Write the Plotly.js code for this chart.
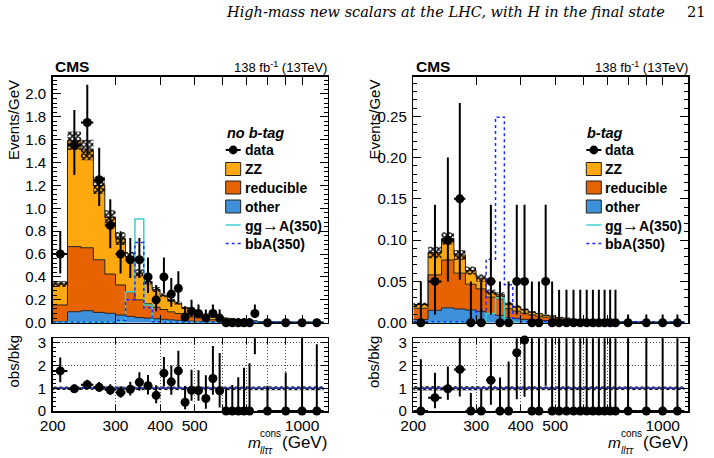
<!DOCTYPE html>
<html><head><meta charset="utf-8">
<script src="https://cdn.plot.ly/plotly-3.0.1.min.js"></script>
<style>html,body{margin:0;padding:0;background:#fff}#plot{width:714px;height:458px}</style>
</head><body><div id="plot"></div>
<script>
// ---------------- data ----------------
const binEdges = [200,220,240,260,280,300,320,340,360,380,400,420,440,460,480,500,525,550,575,600,625,650,675,700,725,750,850,950,1050,1150];
const xTickVals = [200,300,400,500,1000];
const xTickText = ['200','300','400','500','1000'];
const xMinorVals = [600,700,800,900];

// no b-tag category (Events/GeV)
const nbOther = [0.01,0.096,0.105,0.09,0.082,0.067,0.055,0.045,0.04,0.035, 0.03,0.025,0.021,0.017,0.014,0.011,0.009,0.007,0.006,0.005, 0.0045,0.0035,0.003,0.0025,0.002,0.0012,0.0008,0.0004,0.0004];
const nbReducible = [0.145,0.569,0.55,0.46,0.343,0.263,0.215,0.155,0.125,0.1, 0.085,0.07,0.059,0.048,0.038,0.031,0.025,0.019,0.015,0.013, 0.0105,0.0085,0.006,0.0055,0.005,0.0028,0.0017,0.0008,0.001];
const nbZZ = [0.185,0.925,0.855,0.65,0.495,0.405,0.305,0.235,0.195,0.155, 0.125,0.1,0.09,0.065,0.058,0.047,0.039,0.03,0.024,0.022, 0.02,0.015,0.012,0.011,0.009,0.005,0.0034,0.0017,0.002];
const nbUnc = [0.025,0.08,0.09,0.075,0.065,0.057,0.042,0.032,0.027,0.022, 0.018,0.015,0.013,0.01,0.008,0.0065,0.0055,0.0045,0.0035,0.003, 0.0027,0.0022,0.0017,0.0015,0.0013,0.0008,0.0005,0.0003,0.0003];
const nbData = [0.6,1.55,1.75,1.25,0.85,0.6,0.55,0.55,0.4,0.2, 0.4,0.25,0.3,0.05,0.1,0.08,0.04,0.08,0.04,0, 0,0,0,0,0.08,0,0,0,0];
const nbErrUp = [0.2,0.31,0.33,0.28,0.23,0.2,0.19,0.19,0.17,0.13, 0.17,0.14,0.15,0.093,0.1,0.08,0.075,0.08,0.075,0.04, 0.04,0.04,0.04,0.04,0.08,0.01,0.01,0.01,0.01];
const nbErrDn = [0.17,0.26,0.28,0.23,0.2,0.17,0.16,0.16,0.14,0.1, 0.14,0.11,0.12,0.04,0.05,0.04,0.033,0.04,0.033,0, 0,0,0,0,0.04,0,0,0,0];
const nbGGA = [0.003,0.003,0.003,0.003,0.003,0.01,0.27,0.907,0.155,0.005, 0.003,0.003,0.003,0.003,0.003,0.003,0.003,0.003,0.003,0.003, 0.003,0.003,0.003,0.003,0.003,0.003,0.003,0.003,0.003];
const nbBBA = [0.004,0.004,0.004,0.004,0.004,0.02,0.2,0.7,0.13,0.008, 0.004,0.004,0.004,0.004,0.004,0.004,0.004,0.004,0.004,0.004, 0.004,0.004,0.004,0.004,0.004,0.004,0.004,0.004,0.004];

// b-tag category (Events/GeV)
const btOther = [0.004,0.015,0.018,0.0166,0.0154,0.0134,0.011,0.009,0.006,0.005, 0.004,0.0035,0.003,0.0025,0.002,0.0017,0.0014,0.0012,0.001,0.0009, 0.0008,0.0007,0.0006,0.0005,0.0004,0.0003,0.0002,0.00015,0.0001];
const btReducible = [0.0135,0.043,0.058,0.0434,0.0312,0.0276,0.02,0.02,0.011,0.009, 0.0075,0.006,0.005,0.0041,0.0038,0.003,0.0026,0.0021,0.0018,0.0014, 0.0012,0.001,0.0008,0.0007,0.0006,0.0004,0.0003,0.00025,0.0002];
const btZZ = [0.0045,0.027,0.026,0.022,0.0164,0.013,0.006,0.005,0.006,0.0055, 0.0045,0.0035,0.003,0.0024,0.0022,0.0018,0.0015,0.0012,0.001,0.0009, 0.0007,0.0006,0.0005,0.0004,0.0004,0.0003,0.0002,0.0001,0.0001];
const btUnc = [0.0022,0.007,0.0075,0.006,0.005,0.0045,0.0032,0.003,0.002,0.0016, 0.0012,0.001,0.0008,0.0007,0.0006,0.0005,0.0004,0.00035,0.0003,0.00025, 0.0002,0.00018,0.00015,0.00013,0.00011,0.00008,0.00006,0.00004,0.00003];
const btData = [0,0.05,0.1,0.15,0,0,0.05,0,0,0.05, 0.05,0,0,0.05,0,0,0,0,0,0, 0,0,0,0,0,0,0,0,0];
const btErrUp = [0.05,0.093,0.1,0.116,0.05,0.05,0.093,0.05,0.05,0.093, 0.093,0.05,0.05,0.093,0.05,0.04,0.04,0.04,0.04,0.04, 0.04,0.04,0.04,0.04,0.04,0.01,0.01,0.01,0.01];
const btErrDn = [0,0.04,0.05,0.098,0,0,0.04,0,0,0.04, 0.04,0,0,0.04,0,0,0,0,0,0, 0,0,0,0,0,0,0,0,0];
const btGGA = [0.0005,0.0005,0.0005,0.0005,0.0005,0.0005,0.011,0.03,0.005,0.0005, 0.0005,0.0005,0.0005,0.0005,0.0005,0.0005,0.0005,0.0005,0.0005,0.0005, 0.0005,0.0005,0.0005,0.0005,0.0005,0.0005,0.0005,0.0005,0.0005];
const btBBA = [0.001,0.001,0.001,0.001,0.001,0.015,0.077,0.249,0.046,0.005, 0.001,0.001,0.001,0.001,0.001,0.001,0.001,0.001,0.001,0.001, 0.001,0.001,0.001,0.001,0.001,0.001,0.001,0.001,0.001];

const legendLabels = ['data','ZZ','reducible','other','gg<span style="font-size:17px">\u2192</span>A(350)','bbA(350)'];
const categoryLabels = ['no b-tag','b-tag'];

// ---------------- style ----------------
const FONT = 'Liberation Sans, Arial, sans-serif';
const COL = {zz:'#FFA90E', red:'#E76300', other:'#3F90DA', gga:'#3CCFCF', bba:'#1E2BFF'};
const HATCH = {shape: 'x', fgcolor: '#000', bgcolor: 'rgba(0,0,0,0)', size: 4, solidity: 0.6};
const W = 714, H = 458;
const px = v => v / W, py = v => 1 - v / H;
const XMAX = 1180, RMAX = 3.2;

const N = binEdges.length - 1;
const lo = binEdges.slice(0, N), hi = binEdges.slice(1);
const centers = lo.map((l, i) => (l + hi[i]) / 2);
const halfW = lo.map((l, i) => (hi[i] - l) / 2);

function stepXY(vals) {
  const x = [], y = [];
  for (let i = 0; i < N; i++) { x.push(lo[i]); y.push(vals[i]); }
  x.push(hi[N - 1]); y.push(vals[N - 1]);
  return {x, y};
}
function bandXY(c, u) {
  const x = [], y = [];
  for (let i = 0; i < N; i++) { x.push(lo[i], hi[i]); y.push(c[i] + u[i], c[i] + u[i]); }
  for (let i = N - 1; i >= 0; i--) { x.push(hi[i], lo[i]); y.push(c[i] - u[i], c[i] - u[i]); }
  x.push(x[0]); y.push(y[0]);
  return {x, y};
}

function panel(s, xm, ym, xr, yr) {
  const t = [];
  const c1 = s.other;
  const c2 = c1.map((v, i) => v + s.red[i]);
  const c3 = c2.map((v, i) => v + s.zz[i]);
  const base = {type: 'scatter', mode: 'lines', hoverinfo: 'skip', showlegend: false};
  t.push(Object.assign({}, base, stepXY(c1), {xaxis: xm, yaxis: ym, fill: 'tozeroy', fillcolor: COL.other, line: {shape: 'hv', color: '#222', width: 1}}));
  t.push(Object.assign({}, base, stepXY(c2), {xaxis: xm, yaxis: ym, fill: 'tonexty', fillcolor: COL.red, line: {shape: 'hv', color: '#222', width: 1}}));
  t.push(Object.assign({}, base, stepXY(c3), {xaxis: xm, yaxis: ym, fill: 'tonexty', fillcolor: COL.zz, line: {shape: 'hv', color: '#222', width: 1}}));
  const b = bandXY(c3, s.unc);
  t.push(Object.assign({}, base, b, {xaxis: xm, yaxis: ym, fill: 'toself', fillcolor: 'rgba(0,0,0,0)',
    fillpattern: HATCH, line: {width: 0, color: 'rgba(0,0,0,0)'}}));
  t.push(Object.assign({}, base, stepXY(s.gga), {xaxis: xm, yaxis: ym, line: {shape: 'hv', color: COL.gga, width: 1.5}}));
  t.push(Object.assign({}, base, stepXY(s.bba), {xaxis: xm, yaxis: ym, line: {shape: 'hv', color: COL.bba, width: 1.5, dash: 'dot'}}));
  // data
  t.push({type: 'scatter', mode: 'markers', x: centers, y: s.data, xaxis: xm, yaxis: ym, hoverinfo: 'skip', showlegend: false,
    marker: {size: 8, color: '#000', opacity: 0},
    error_y: {type: 'data', symmetric: false, array: s.up, arrayminus: s.dn, color: '#000', thickness: 2, width: 0},
    error_x: {type: 'data', array: halfW, color: '#000', thickness: 2, width: 0}});
  t.push({type: 'scatter', mode: 'markers', x: centers, y: s.data, xaxis: xm, yaxis: ym, hoverinfo: 'skip', showlegend: false,
    cliponaxis: false, marker: {size: 9, color: '#000'}});
  // ratio
  const ones = c3.map(() => 1);
  const rb = bandXY(ones, s.unc.map((u, i) => u / c3[i]));
  t.push(Object.assign({}, base, rb, {xaxis: xr, yaxis: yr, fill: 'toself', fillcolor: 'rgba(0,0,0,0)',
    fillpattern: HATCH, line: {width: 0, color: 'rgba(0,0,0,0)'}}));
  t.push(Object.assign({}, base, {x: [lo[0], hi[N - 1]], y: [1, 1], xaxis: xr, yaxis: yr, line: {color: '#2030B0', width: 1.5}}));
  const r = s.data.map((d, i) => d / c3[i]);
  const ru = s.up.map((e, i) => e / c3[i]);
  const rd = s.dn.map((e, i) => e / c3[i]);
  t.push({type: 'scatter', mode: 'markers', x: centers, y: r, xaxis: xr, yaxis: yr, hoverinfo: 'skip', showlegend: false,
    marker: {size: 8, color: '#000', opacity: 0},
    error_y: {type: 'data', symmetric: false, array: ru, arrayminus: rd, color: '#000', thickness: 2, width: 0},
    error_x: {type: 'data', array: halfW, color: '#000', thickness: 2, width: 0}});
  t.push({type: 'scatter', mode: 'markers', x: centers, y: r.map(v => v <= RMAX ? v : null), xaxis: xr, yaxis: yr, hoverinfo: 'skip', showlegend: false,
    cliponaxis: false, marker: {size: 9, color: '#000'}});
  return t;
}

const traces = [].concat(
  panel({other: nbOther, red: nbReducible, zz: nbZZ, unc: nbUnc, data: nbData, up: nbErrUp, dn: nbErrDn, gga: nbGGA, bba: nbBBA}, 'x', 'y', 'x2', 'y2'),
  panel({other: btOther, red: btReducible, zz: btZZ, unc: btUnc, data: btData, up: btErrUp, dn: btErrDn, gga: btGGA, bba: btBBA}, 'x3', 'y3', 'x4', 'y4')
);

// ---------------- axes ----------------
const GRID = {griddash: '1px,2px', gridcolor: '#555', gridwidth: 1};
const axBase = {showline: true, linecolor: '#000', linewidth: 1.5, mirror: 'allticks', ticks: 'inside', tickcolor: '#000', tickwidth: 1,
  zeroline: false, showgrid: false, fixedrange: true, tickfont: {family: FONT, size: 15, color: '#000'}};
const mainY = [py(322.7), py(76.7)], ratioY = [py(411), py(338.3)];
const leftX = [px(52.7), px(327.7)], rightX = [px(413.3), px(688.3)];
function xAx(dom, anchor, ratio) {
  return Object.assign({}, axBase, GRID, {domain: dom, anchor: anchor, type: 'log', range: [Math.log10(200), Math.log10(XMAX)],
    tickmode: 'array', tickvals: xTickVals, ticktext: xTickText, ticklen: ratio ? 6 : 8, showticklabels: ratio, showgrid: ratio,
    minor: Object.assign({tickmode: 'array', tickvals: xMinorVals, ticks: 'inside', ticklen: ratio ? 6 : 8, tickcolor: '#000', showgrid: ratio}, GRID),
    tickfont: {family: FONT, size: 15.5, color: '#000'}});
}
function yMain(dom, anchor, top, rtop, step, nd, minor) {
  const vals = [], txt = [];
  for (let v = 0; v <= top + 1e-9; v += step) { vals.push(+v.toFixed(4)); txt.push(v.toFixed(nd)); }
  return Object.assign({}, axBase, {domain: dom, anchor: anchor, range: [0, rtop], tickmode: 'array', tickvals: vals, ticktext: txt,
    ticklen: 8, minor: {dtick: minor, ticklen: 4, ticks: 'inside', tickcolor: '#000', showgrid: false}, ticklabelstandoff: 2});
}
function yRatio(dom, anchor) {
  return Object.assign({}, axBase, GRID, {domain: dom, anchor: anchor, range: [0, RMAX], tickmode: 'array', tickvals: [0, 1, 2, 3], ticktext: ['0', '1', '2', '3'],
    ticklen: 7, minor: {dtick: 0.2, ticklen: 3.5, ticks: 'inside', tickcolor: '#000', showgrid: false},
    showgrid: true, ticklabelstandoff: 2});
}

// ---------------- annotations / legend ----------------
const ann = [];
const shapes = [];
function txt(text, x, y, opt) {
  ann.push(Object.assign({text: text, x: px(x), y: py(y), xref: 'paper', yref: 'paper', showarrow: false,
    xanchor: 'left', yanchor: 'middle', font: {family: FONT, size: 14, color: '#000'}}, opt || {}));
}
const SERIF = 'DejaVu Serif, Liberation Serif, serif';
txt('<i>High-mass new scalars at the LHC, with H in the final state</i>', 667, 12, {xanchor: 'right', font: {family: SERIF, size: 14.5, color: '#000'}});
txt('21', 707, 12, {xanchor: 'right', font: {family: SERIF, size: 14.5, color: '#000'}});

[0, 360.6].forEach((dx, k) => {
  txt('<b>CMS</b>', 53 + dx, 66, {font: {family: FONT, size: 15.5, color: '#000'}});
  txt('138 fb<sup>-1</sup> (13TeV)', 329 + dx, 67, {xanchor: 'right', font: {family: FONT, size: 13, color: '#000'}});
  txt('Events/GeV', 13 + dx, 78, {textangle: -90, xanchor: 'center', yanchor: 'top', font: {family: FONT, size: 15, color: '#000'}});
  txt('obs/bkg', 13 + dx, 361.5, {textangle: -90, xanchor: 'center', font: {family: FONT, size: 15, color: '#000'}});
  // x title
  txt('<i>m</i>', 245.5 + dx, 442, {font: {family: FONT, size: 15.5, color: '#000'}});
  txt('cons', 259 + dx, 433.5, {font: {family: FONT, size: 10, color: '#000'}, borderpad: 0});
  txt('<i>ll\u03c4\u03c4</i>', 259 + dx, 450, {font: {family: FONT, size: 10, color: '#000'}, borderpad: 0});
  txt('(GeV)', 329 + dx, 442, {xanchor: 'right', font: {family: FONT, size: 17, color: '#000'}});
  // legend
  txt('<b><i>' + categoryLabels[k] + '</i></b>', 224.5 + dx, 132.7, {font: {family: FONT, size: 14.5, color: '#000'}});
  const ly = [150, 169, 187.5, 206.5, 225, 243.5];
  legendLabels.forEach((l, j) => txt('<b>' + l + '</b>', 242.5 + dx, ly[j], {font: {family: FONT, size: 14, color: '#000'}}));
  // overline of the anti-b in the last legend entry
  shapes.push({type: 'line', xref: 'paper', yref: 'paper', layer: 'above', x0: px(253 + dx), x1: px(261 + dx), y0: py(234), y1: py(234), line: {color: '#000', width: 1.6}});
  const x0 = 225.7 + dx, x1 = 240.7 + dx;
  shapes.push({type: 'line', xref: 'paper', yref: 'paper', x0: px(x0), x1: px(x1), y0: py(ly[0]), y1: py(ly[0]), line: {color: '#000', width: 2}});
  shapes.push({type: 'circle', xref: 'paper', yref: 'paper', x0: px(233.2 + dx - 4.4), x1: px(233.2 + dx + 4.4), y0: py(ly[0] - 4.4), y1: py(ly[0] + 4.4), fillcolor: '#000', line: {color: '#000', width: 0}});
  [[COL.zz, 1], [COL.red, 2], [COL.other, 3]].forEach(([c, j]) => {
    shapes.push({type: 'rect', xref: 'paper', yref: 'paper', x0: px(x0), x1: px(x1), y0: py(ly[j] + 6.5), y1: py(ly[j] - 6.5), fillcolor: c, line: {color: '#222', width: 1}});
  });
  shapes.push({type: 'line', xref: 'paper', yref: 'paper', x0: px(x0), x1: px(x1), y0: py(ly[4]), y1: py(ly[4]), line: {color: COL.gga, width: 1.5}});
  shapes.push({type: 'line', xref: 'paper', yref: 'paper', x0: px(x0), x1: px(x1), y0: py(ly[5]), y1: py(ly[5]), line: {color: COL.bba, width: 1.5, dash: 'dot'}});
});

const layout = {
  width: W, height: H, margin: {l: 0, r: 0, t: 0, b: 0}, paper_bgcolor: '#fff', plot_bgcolor: 'rgba(0,0,0,0)', showlegend: false,
  font: {family: FONT, color: '#000'},
  xaxis: xAx(leftX, 'y', false), yaxis: yMain(mainY, 'x', 2.0, 2.15, 0.2, 1, 0.04),
  xaxis2: xAx(leftX, 'y2', true), yaxis2: yRatio(ratioY, 'x2'),
  xaxis3: xAx(rightX, 'y3', false), yaxis3: yMain(mainY, 'x3', 0.25, 0.298, 0.05, 2, 0.01),
  xaxis4: xAx(rightX, 'y4', true), yaxis4: yRatio(ratioY, 'x4'),
  annotations: ann, shapes: shapes
};
Plotly.newPlot('plot', traces, layout, {displayModeBar: false, staticPlot: true});
</script>
</body></html>
